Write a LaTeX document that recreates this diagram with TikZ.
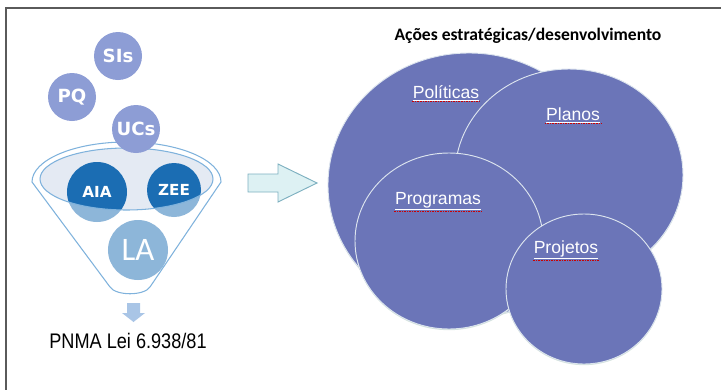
\documentclass[tikz,border=0pt]{standalone}
\usepackage{fontspec}
\setmainfont{Liberation Sans}
\newfontfamily\califont{Carlito}
\newfontfamily\verdfont{DejaVu Sans}[BoldFont={DejaVu Sans Bold}]
\usetikzlibrary{shapes.geometric,shadows}

\definecolor{framegray}{HTML}{5A5A5A}
\definecolor{bubblecol}{HTML}{8D9DD5}
\definecolor{darkblue}{HTML}{1B6DB3}
\definecolor{rimblue}{HTML}{7FB2DC}
\definecolor{openfill}{HTML}{E4EAF3}
\definecolor{arrowfill}{HTML}{DDF1F3}
\definecolor{arrowline}{HTML}{7DB0C0}
\definecolor{dropblue}{HTML}{A9C5E6}
\definecolor{venncol}{HTML}{6B75B8}
\definecolor{vennline}{HTML}{DCE4EE}
\definecolor{vennshadow}{HTML}{CFE0D8}

\tikzset{
  bubble/.style={circle, fill=bubblecol, text=white, inner sep=0pt, minimum size=1.44cm,
    font=\verdfont\bfseries\fontsize{15.5}{15.5}\selectfont},
  inbubble/.style={circle, fill=darkblue, text=white, inner sep=0pt,
    font=\verdfont\bfseries\fontsize{13}{13}\selectfont},
  venn/.style={ellipse, fill=venncol, draw=vennline, line width=0.8pt, inner sep=0pt,
    drop shadow={shadow xshift=0pt, shadow yshift=-1pt, fill=vennshadow, opacity=0.9}},
  spellmark/.style={draw=red!80!black, dash pattern=on 0.7pt off 0.7pt, line width=0.7pt},
  vennlabel/.style={text=white, inner sep=0.8pt, anchor=base, font=\fontsize{15}{15}\selectfont,
    append after command={(\tikzlastnode.south west) edge[spellmark] (\tikzlastnode.south east)}},
}

\begin{document}
\begin{tikzpicture}[x=0.03cm,y=-0.03cm]
\useasboundingbox (0,0) rectangle (721,390);
\draw[framegray, line width=1.5pt] (6,400) -- (6,8) -- (730,8);

% funnel opening
\fill[openfill] (126.5,179) ellipse [x radius=86.5, y radius=31];
\node[inbubble, minimum size=1.8cm] (aia) at (97,192) {AIA};
\node[inbubble, minimum size=1.62cm] (zee) at (174,190) {ZEE};
\node[inbubble, minimum size=1.8cm, font=\califont\fontsize{28}{28}\selectfont] (la) at (138,250) {LA};
\fill[white, fill opacity=0.5] (32,182) -- (110,287) .. controls (116,296) and (144,296) .. (150,287)
  -- (221,182) -- (213,179) arc [start angle=0, end angle=180, x radius=86.5, y radius=31] -- cycle;
\draw[rimblue, line width=0.9pt] (32,182) arc [start angle=180, end angle=360, x radius=94.5, y radius=40]
  -- (150,287) .. controls (144,296) and (116,296) .. (110,287) -- cycle;
\draw[rimblue, line width=0.9pt] (126.5,179) ellipse [x radius=86.5, y radius=31];

% inputs
\node[bubble] (ucs) at (136,129) {UCs};
\node[bubble] (pq) at (72,97) {PQ};
\node[bubble] (sis) at (118,56) {SIs};

% output
\fill[dropblue] (127,303) -- (140,303) -- (140,313) -- (145,313) -- (133.5,322) -- (122,313) -- (127,313) -- cycle;
\node[anchor=base, inner sep=0pt] (pnma) at (128,348) {\scalebox{0.86}[1]{\fontsize{18}{18}\selectfont PNMA Lei 6.938/81}};

% big arrow
\filldraw[fill=arrowfill, draw=arrowline, line width=0.8pt] (248,174) -- (278,174) -- (278,164) -- (317,183)
  -- (278,202) -- (278,192) -- (248,192) -- cycle;

% strategic actions
\node[anchor=base, inner sep=0pt, font=\califont\bfseries\fontsize{15}{15}\selectfont] (title) at (528,40) {Ações estratégicas/desenvolvimento};
\node[venn, minimum width=8.46cm, minimum height=7.92cm] (pol) at (469,185) {};
\node[venn, minimum width=6.84cm, minimum height=6.36cm] (pla) at (569,175) {};
\node[venn, minimum width=5.64cm, minimum height=5.28cm] (prg) at (449,241) {};
\node[venn, minimum width=4.68cm, minimum height=4.5cm] (prj) at (584,289) {};
\node[vennlabel] (polt) at (446,98) {\underline{Políticas}};
\node[vennlabel] (plat) at (573,120) {\underline{Planos}};
\node[vennlabel] (prgt) at (438,204) {\underline{Programas}};
\node[vennlabel] (prjt) at (566,253) {\underline{Projetos}};
\end{tikzpicture}
\end{document}
